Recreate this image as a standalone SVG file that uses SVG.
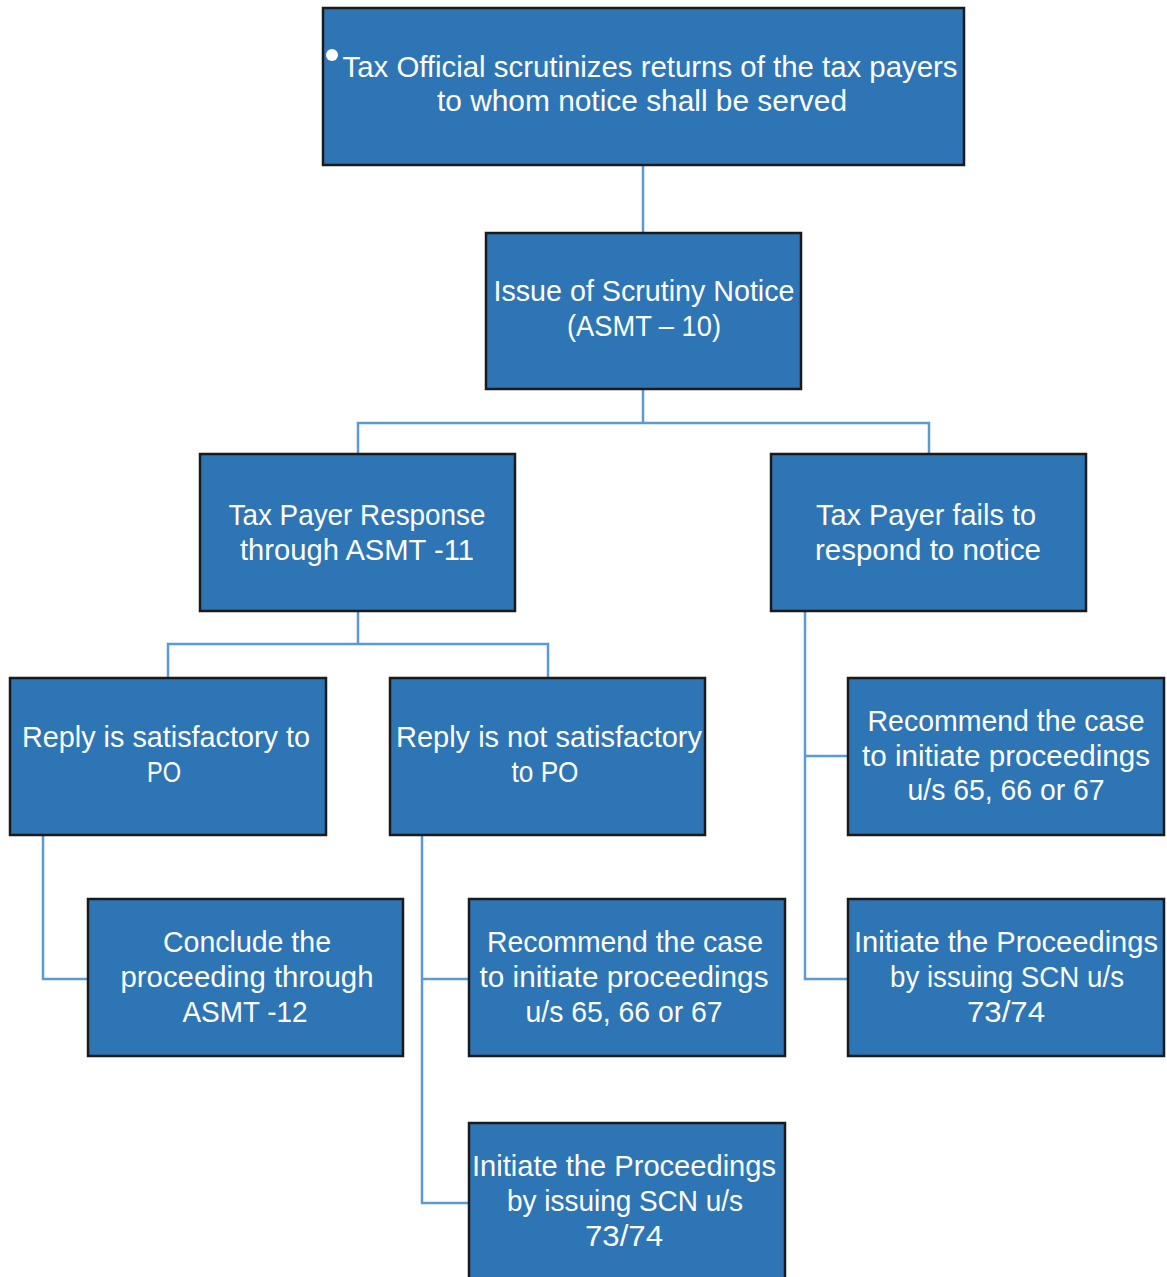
<svg xmlns="http://www.w3.org/2000/svg" width="1167" height="1277" viewBox="0 0 1167 1277">
<style>
.box{fill:#2E75B6;stroke:#1a1a1a;stroke-width:2.5}
.t{fill:#fff;font-family:"Liberation Sans",Arial,sans-serif;font-size:30px;text-anchor:middle}
.c{fill:none;stroke:#5B9BD5;stroke-width:2.5}
</style>
<rect width="1167" height="1277" fill="#fff"/>
<g id="connectors">
<path class="c" d="M643 165V233"/>
<path class="c" d="M643 389V423M358 454V423H929V454"/>
<path class="c" d="M358 611V644M168 678V644H548V678"/>
<path class="c" d="M805 611V979H848M805 756H848"/>
<path class="c" d="M43 835V979H88"/>
<path class="c" d="M422 835V1203H469M422 979H469"/>
</g>
<g id="n1">
<rect class="box" x="323" y="8" width="641" height="157"/>
<circle cx="332" cy="55" r="6" fill="#fff"/>
<text class="t" x="650" y="77" textLength="615" lengthAdjust="spacingAndGlyphs">Tax Official scrutinizes returns of the tax payers</text>
<text class="t" x="642" y="111" textLength="410" lengthAdjust="spacingAndGlyphs">to whom  notice  shall be served</text>
</g>
<g id="n2">
<rect class="box" x="486" y="233" width="315" height="156"/>
<text class="t" x="644" y="301" textLength="301" lengthAdjust="spacingAndGlyphs">Issue of Scrutiny Notice</text>
<text class="t" x="644" y="336" textLength="154" lengthAdjust="spacingAndGlyphs">(ASMT – 10)</text>
</g>
<g id="n3">
<rect class="box" x="200" y="454" width="315" height="157"/>
<text class="t" x="357" y="525" textLength="257" lengthAdjust="spacingAndGlyphs">Tax Payer Response</text>
<text class="t" x="357" y="560" textLength="234" lengthAdjust="spacingAndGlyphs">through ASMT -11</text>
</g>
<g id="n4">
<rect class="box" x="771" y="454" width="315" height="157"/>
<text class="t" x="926" y="525" textLength="220" lengthAdjust="spacingAndGlyphs">Tax Payer fails to</text>
<text class="t" x="928" y="560" textLength="226" lengthAdjust="spacingAndGlyphs">respond to notice</text>
</g>
<g id="n5">
<rect class="box" x="10" y="678" width="316" height="157"/>
<text class="t" x="166" y="747" textLength="288" lengthAdjust="spacingAndGlyphs">Reply is satisfactory to</text>
<text class="t" x="164" y="782" textLength="34" lengthAdjust="spacingAndGlyphs">PO</text>
</g>
<g id="n6">
<rect class="box" x="390" y="678" width="315" height="157"/>
<text class="t" x="549" y="747" textLength="306" lengthAdjust="spacingAndGlyphs">Reply is not satisfactory</text>
<text class="t" x="545" y="782" textLength="67" lengthAdjust="spacingAndGlyphs">to PO</text>
</g>
<g id="n7">
<rect class="box" x="848" y="678" width="316" height="157"/>
<text class="t" x="1006" y="731" textLength="277" lengthAdjust="spacingAndGlyphs">Recommend the case</text>
<text class="t" x="1006" y="766" textLength="288" lengthAdjust="spacingAndGlyphs">to initiate proceedings</text>
<text class="t" x="1006" y="800" textLength="197" lengthAdjust="spacingAndGlyphs">u/s 65, 66  or 67</text>
</g>
<g id="n8">
<rect class="box" x="88" y="899" width="315" height="157"/>
<text class="t" x="247" y="952" textLength="168" lengthAdjust="spacingAndGlyphs">Conclude the</text>
<text class="t" x="247" y="987" textLength="253" lengthAdjust="spacingAndGlyphs">proceeding through</text>
<text class="t" x="245" y="1022" textLength="125" lengthAdjust="spacingAndGlyphs">ASMT -12</text>
</g>
<g id="n9">
<rect class="box" x="469" y="899" width="316" height="157"/>
<text class="t" x="625" y="952" textLength="276" lengthAdjust="spacingAndGlyphs">Recommend the case</text>
<text class="t" x="624" y="987" textLength="289" lengthAdjust="spacingAndGlyphs">to initiate proceedings</text>
<text class="t" x="624" y="1022" textLength="197" lengthAdjust="spacingAndGlyphs">u/s 65, 66  or 67</text>
</g>
<g id="n10">
<rect class="box" x="848" y="899" width="316" height="157"/>
<text class="t" x="1006" y="952" textLength="304" lengthAdjust="spacingAndGlyphs">Initiate the Proceedings</text>
<text class="t" x="1007" y="987" textLength="234" lengthAdjust="spacingAndGlyphs">by issuing SCN  u/s</text>
<text class="t" x="1006" y="1022" textLength="78" lengthAdjust="spacingAndGlyphs">73/74</text>
</g>
<g id="n11">
<rect class="box" x="469" y="1123" width="316" height="170"/>
<text class="t" x="624" y="1176" textLength="304" lengthAdjust="spacingAndGlyphs">Initiate the Proceedings</text>
<text class="t" x="625" y="1211" textLength="236" lengthAdjust="spacingAndGlyphs">by issuing SCN  u/s</text>
<text class="t" x="624" y="1246" textLength="78" lengthAdjust="spacingAndGlyphs">73/74</text>
</g>
</svg>
